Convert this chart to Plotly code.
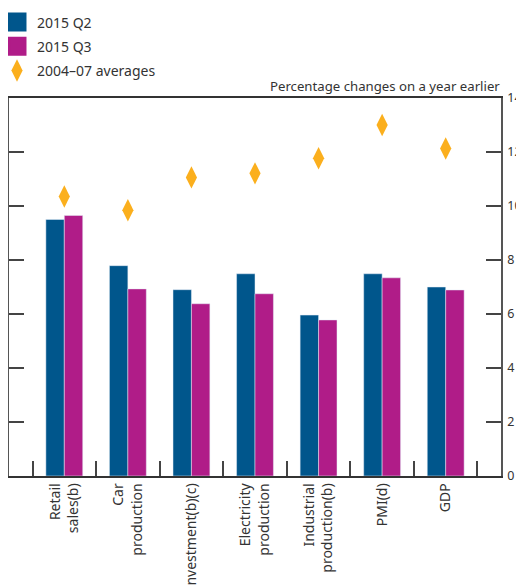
import plotly.graph_objects as go

categories = ["Retail<br>sales(b)", "Car<br>production", "Investment(b)(c)",
              "Electricity<br>production", "Industrial<br>production(b)", "PMI(d)", "GDP"]
q2_2015 = [9.50, 7.79, 6.90, 7.49, 5.96, 7.49, 7.00]
q3_2015 = [9.65, 6.93, 6.38, 6.75, 5.78, 7.34, 6.89]
avg_2004_07 = [10.35, 9.84, 11.06, 11.21, 11.77, 13.00, 12.13]
y_ticks = [0, 2, 4, 6, 8, 10, 12, 14]

BLUE = "#00568c"
MAGENTA = "#b01c88"
ORANGE = "#fbaf1d"
TXT = "#333333"
FONT = "Noto Sans"

fig = go.Figure()
fig.add_trace(go.Bar(x=categories, y=q2_2015, marker_color=BLUE, showlegend=False, name="2015 Q2"))
fig.add_trace(go.Bar(x=categories, y=q3_2015, marker_color=MAGENTA, showlegend=False, name="2015 Q3"))
fig.add_trace(go.Scatter(x=categories, y=avg_2004_07, mode="markers", showlegend=False,
                         marker=dict(symbol="diamond-tall", size=16, color=ORANGE, line=dict(width=0)),
                         name="2004–07 averages"))

# legend entries
fig.add_trace(go.Scatter(x=[None], y=[None], mode="markers", name="2015 Q2", legendgroup="a",
                         marker=dict(symbol="square", size=16, color=BLUE, line=dict(color=BLUE, width=3))))
fig.add_trace(go.Scatter(x=[None], y=[None], mode="markers", name="2015 Q3", legendgroup="b",
                         marker=dict(symbol="square", size=16, color=MAGENTA, line=dict(color=MAGENTA, width=3))))
fig.add_trace(go.Scatter(x=[None], y=[None], mode="markers", name="2004–07 averages", legendgroup="c",
                         marker=dict(symbol="diamond-tall", size=16, color=ORANGE)))

# page body adds an 8px offset, so the figure is drawn 8px smaller
fig.update_layout(
    width=516, height=577,
    margin=dict(l=1, r=23, t=90, b=109, pad=0, autoexpand=False),
    paper_bgcolor="white", plot_bgcolor="white",
    font=dict(family=FONT, size=14, color=TXT),
    barmode="group", bargap=0.42, bargroupgap=0,
    showlegend=True,
    legend=dict(x=-0.0244, y=1.242, xanchor="left", yanchor="top",
                bgcolor="rgba(0,0,0,0)", font=dict(size=14, color=TXT),
                itemsizing="trace", tracegroupgap=3),
    annotations=[dict(text="Percentage changes on a year earlier", x=1, y=1, xref="paper", yref="paper",
                      xanchor="right", yanchor="bottom", showarrow=False, yshift=1, xshift=1,
                      font=dict(size=13.2, color=TXT))],
)
fig.update_xaxes(type="category", range=[-0.87, 6.87], showgrid=False, automargin=False,
                 ticks="inside", tickson="boundaries", ticklen=15, tickwidth=1.5, tickcolor="#444",
                 showline=True, linecolor="#333", linewidth=1.5, mirror=True,
                 tickangle=-90, tickfont=dict(size=14, color=TXT))
fig.update_yaxes(range=[0, 14], tickvals=y_ticks, side="right", showgrid=False, zeroline=False,
                 automargin=False, ticklabelstandoff=2,
                 ticks="inside", ticklen=15, tickwidth=1.5, tickcolor="#444",
                 showline=True, linecolor="#555", linewidth=1.5, mirror="ticks",
                 tickfont=dict(size=12.5, color=TXT))

fig.write_html("out.html")
